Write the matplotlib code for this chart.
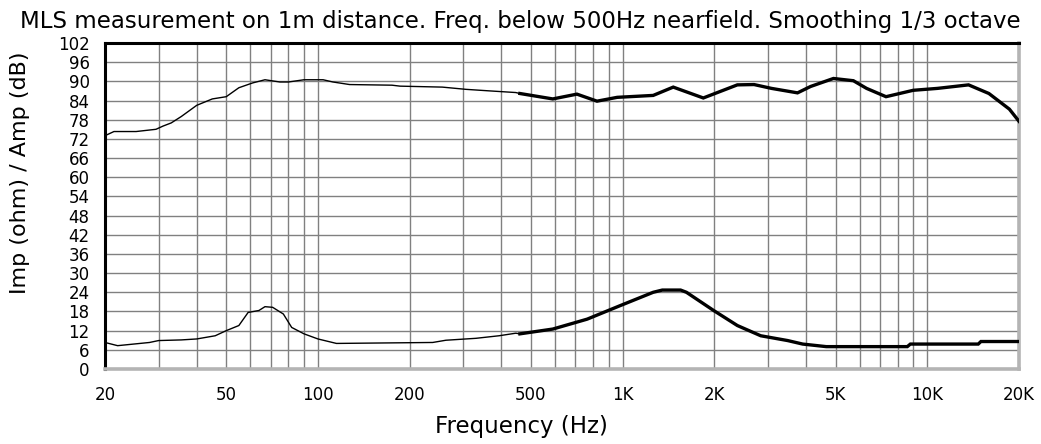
# MLS measurement plot: amplitude (dB) and impedance (ohm) vs frequency
import numpy as np
import matplotlib
matplotlib.use('Agg')
import matplotlib.pyplot as plt

# amplitude response (dB)
amp_freq = [20, 21.4, 25.3, 29.4, 31, 33, 35.6, 40, 45, 50, 55, 61, 67, 75, 80, 90, 104,
            112, 127, 175, 186, 256, 306, 368, 446, 460, 590, 708, 824, 960, 1260,
            1466, 1840, 2380, 2700, 3080, 3750, 4140, 4920, 5720, 6320, 7320, 8990,
            10800, 13660, 15930, 18600, 20000]
amp_db = [73, 74.3, 74.3, 75, 76, 77, 79, 82.5, 84.5, 85.2, 88, 89.5, 90.5, 89.8, 89.8,
          90.5, 90.5, 89.8, 89, 88.8, 88.5, 88.2, 87.5, 87, 86.5, 86.2, 84.5, 86, 83.8,
          85, 85.6, 88.2, 84.8, 88.9, 89, 87.8, 86.4, 88.4, 90.9, 90.2, 87.8, 85.2,
          87.2, 87.8, 88.9, 86.2, 81.3, 77.5]

# impedance (ohm)
imp_freq = [20, 22, 28, 30, 35.6, 40, 46, 50, 55, 59, 64, 67, 71, 77, 82, 90, 100, 115,
            238, 263, 330, 393, 446, 460, 590, 765, 980, 1260, 1350, 1550, 1620, 1990,
            2380, 2840, 3480, 3900, 4660, 8600, 8800, 14700, 15000, 20000]
imp_ohm = [8.3, 7.3, 8.3, 8.9, 9.1, 9.4, 10.4, 12, 13.6, 17.7, 18.3, 19.5, 19.3, 17.2,
           13, 11, 9.4, 8, 8.3, 9, 9.6, 10.4, 11.2, 11, 12.5, 15.6, 19.8, 24, 24.7,
           24.7, 24, 18.3, 13.6, 10.4, 8.9, 7.8, 7, 7, 7.8, 7.8, 8.6, 8.6]

xtick_vals = [20, 50, 100, 200, 500, 1000, 2000, 5000, 10000, 20000]
xtick_labels = ['20', '50', '100', '200', '500', '1K', '2K', '5K', '10K', '20K']
ytick_vals = list(range(0, 103, 6))

split_hz = 500  # thin line below (nearfield), thick above

plt.rcParams['font.family'] = ['DejaVu Sans']
W, H = 1041, 444
fig = plt.figure(figsize=(W / 100, H / 100), dpi=100)
ax = fig.add_axes([105/W, (H-369)/H, (1019-105)/W, (369-43)/H])


def draw(freq, vals):
    f = np.array(freq, dtype=float)
    v = np.array(vals, dtype=float)
    lo = f <= split_hz
    hi = f >= split_hz
    # share boundary point
    k = np.argmax(f > split_hz)
    lo[k] = True
    hi[k - 1] = True
    ax.plot(f[lo], v[lo], color='black', lw=1.0, zorder=3)
    ax.plot(f[hi], v[hi], color='black', lw=2.4, zorder=3, solid_joinstyle='miter')


draw(amp_freq, amp_db)
draw(imp_freq, imp_ohm)

ax.set_xscale('log')
ax.set_xlim(20, 20000)
ax.set_ylim(0, 102)

# grid lines at every log subdivision
grid_x = [m * 10**d for d in range(1, 5) for m in range(1, 10) if 20 <= m * 10**d <= 20000]
for gx in grid_x:
    ax.axvline(gx, color='#808080', lw=1.0, zorder=1)
for gy in ytick_vals:
    ax.axhline(gy, color='#808080', lw=1.0, zorder=1)

ax.set_xticks(xtick_vals)
ax.set_xticklabels(xtick_labels)
ax.xaxis.set_minor_locator(matplotlib.ticker.NullLocator())
ax.set_yticks(ytick_vals)
ax.tick_params(axis='both', length=0, labelsize=12)
ax.tick_params(axis='x', pad=12)
ax.tick_params(axis='y', pad=11)

for s in ['left', 'top']:
    ax.spines[s].set_color('black')
    ax.spines[s].set_linewidth(2.2)
for s in ['right', 'bottom']:
    ax.spines[s].set_color('#b4b4b4')
    ax.spines[s].set_linewidth(2.6)

fig.text(520/W, 1 - 28/H, 'MLS measurement on 1m distance. Freq. below 500Hz nearfield. Smoothing 1/3 octave',
         ha='center', va='baseline', fontsize=16.5)
fig.text(521/W, 1 - 433/H, 'Frequency (Hz)', ha='center', va='baseline', fontsize=16.5)
fig.text(20/W, 1 - 173/H, 'Imp (ohm) / Amp (dB)', ha='center', va='center',
         rotation=90, fontsize=16)

fig.savefig('out.png', dpi=100)
